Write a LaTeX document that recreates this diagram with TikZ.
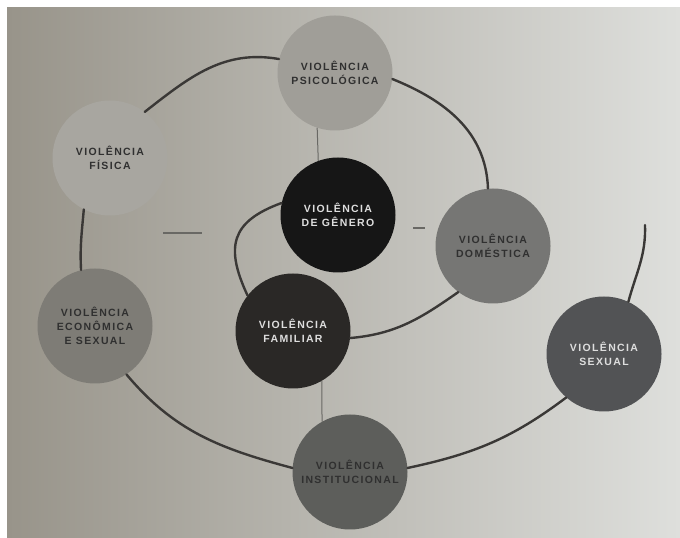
\documentclass[tikz,border=0pt]{standalone}
\usepackage{fontspec}
\newfontfamily\lab{Liberation Sans}[LetterSpace=13]
\definecolor{bgL}{RGB}{152,148,138}
\definecolor{bgM}{RGB}{198,196,188}
\definecolor{bgR}{RGB}{222,223,220}
\definecolor{cPsi}{RGB}{160,158,152}
\definecolor{cFis}{RGB}{168,166,160}
\definecolor{cEco}{RGB}{126,124,118}
\definecolor{cDom}{RGB}{118,118,116}
\definecolor{cIns}{RGB}{93,94,91}
\definecolor{cSex}{RGB}{82,83,85}
\definecolor{cFam}{RGB}{42,40,38}
\definecolor{cGen}{RGB}{22,22,22}
\definecolor{txtD}{RGB}{48,48,48}
\definecolor{txtL}{RGB}{222,222,222}
\definecolor{spiralc}{RGB}{58,56,54}
\definecolor{thinc}{RGB}{105,104,100}
\tikzset{
  vc/.style={circle, minimum size=115pt, inner sep=0pt, align=center,
    font=\lab\bfseries\fontsize{10.5}{14}\selectfont},
  spiral/.style={line width=2.4pt, draw=spiralc, line cap=round},
  thinln/.style={line width=1pt, draw=thinc},
  dashln/.style={line width=1.5pt, draw=thinc},
}
\begin{document}
\begin{tikzpicture}[x=1pt,y=1pt]
\useasboundingbox (0,0) rectangle (680,538);
\fill[white] (0,0) rectangle (680,538);
\shade[left color=bgL, middle color=bgM, right color=bgR] (7,0) rectangle (680,530);

\node[vc, fill=cPsi, text=txtD] (psi) at (335,465) {VIOLÊNCIA\\PSICOLÓGICA};
\node[vc, fill=cFis, text=txtD] (fis) at (110,380) {VIOLÊNCIA\\FÍSICA};
\node[vc, fill=cGen, text=txtL] (gen) at (338,323) {VIOLÊNCIA\\DE GÊNERO};
\node[vc, fill=cDom, text=txtD] (dom) at (493,292) {VIOLÊNCIA\\DOMÉSTICA};
\node[vc, fill=cEco, text=txtD] (eco) at (95,212) {VIOLÊNCIA\\ECONÔMICA\\E SEXUAL};
\node[vc, fill=cFam, text=txtL] (fam) at (293,207) {VIOLÊNCIA\\FAMILIAR};
\node[vc, fill=cSex, text=txtL] (sex) at (604,184) {VIOLÊNCIA\\SEXUAL};
\node[vc, fill=cIns, text=txtD] (ins) at (350,66) {VIOLÊNCIA\\INSTITUCIONAL};

\coordinate (tail) at (645,313);

% spiral
\draw[spiral] (gen.168) to[out=200,in=115,looseness=1.4] (fam.142);
\draw[spiral] (fam.-7) to[out=5,in=215] (dom.233);
\draw[spiral] (dom.95) to[out=92,in=-22] (psi.-6);
\draw[spiral] (psi.166) to[out=170,in=38] (fis.53);
\draw[spiral] (fis.243) to[out=265,in=93] (eco.104);
\draw[spiral] (eco.-57) to[out=-50,in=165] (ins.176);
\draw[spiral] (ins.4) to[out=12,in=217] (sex.229);
\draw[spiral] (sex.65) to[out=75,in=-88] (tail);

% thin connectors
\draw[thinln] (psi.252) -- (gen.110);
\draw[thinln] (fam.300) -- (ins.119);

% dashes
\draw[dashln] (163,305) -- (202,305);
\draw[dashln] (413,310) -- (425,310);
\end{tikzpicture}
\end{document}
